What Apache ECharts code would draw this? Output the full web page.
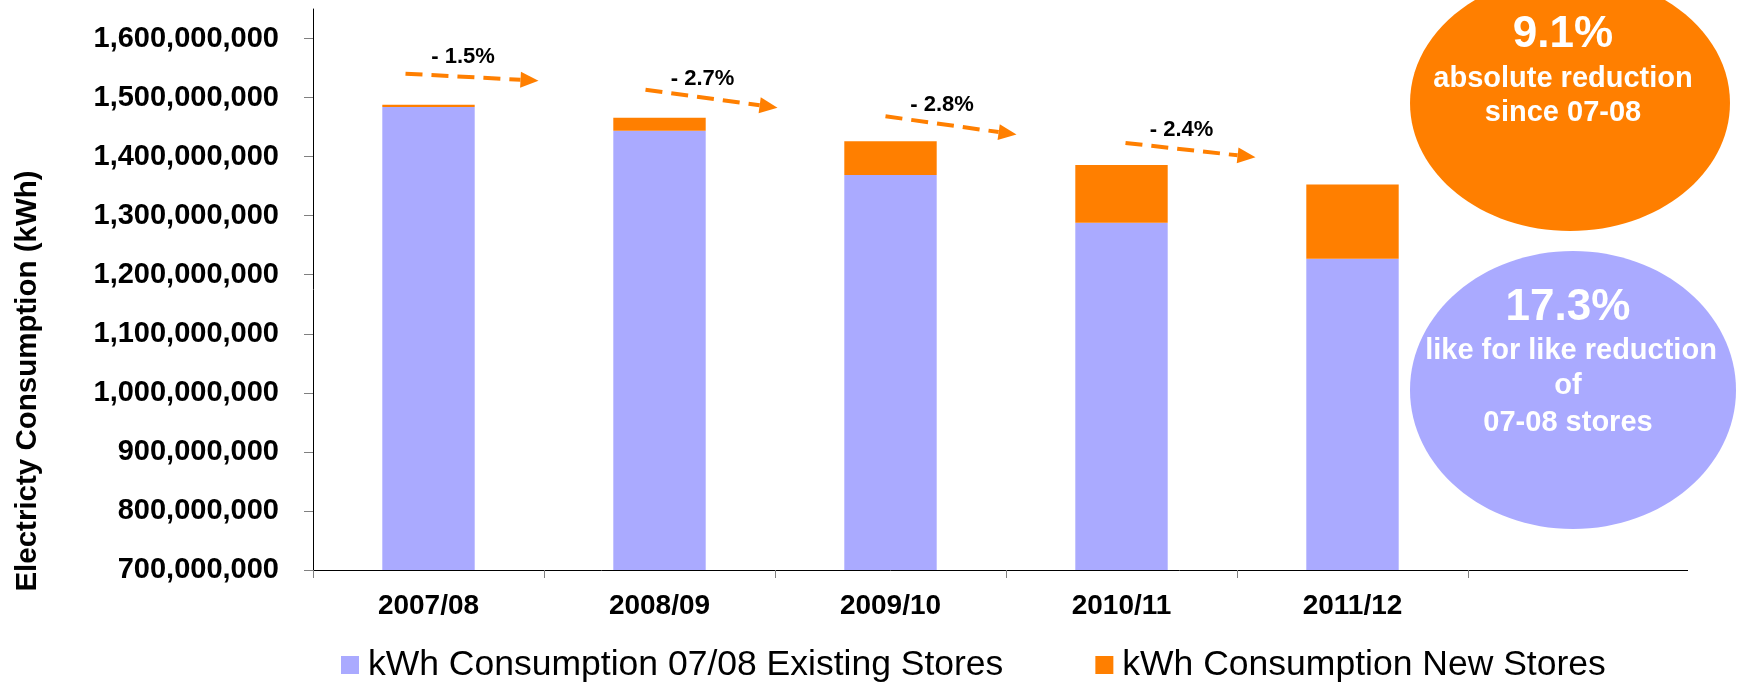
<!DOCTYPE html>
<html>
<head>
<meta charset="utf-8">
<title>Electricity Consumption</title>
<script src="https://cdn.jsdelivr.net/npm/echarts@6/dist/echarts.min.js"></script>
<style>
  html, body { margin: 0; padding: 0; background: #fff; }
  #chart { width: 1742px; height: 685px; }
</style>
</head>
<body>
<div id="chart"></div>
<script>
// Financial years
const years = ['2007/08', '2008/09', '2009/10', '2010/11', '2011/12'];
// kWh used by the stores that were open in 2007/08
const existingStores = [1484000000, 1444000000, 1369000000, 1288000000, 1227000000];
// kWh used by stores opened since then
const newStores = [4000000, 22000000, 57000000, 98000000, 126000000];
// Y axis ticks
const yTicks = [700000000, 800000000, 900000000, 1000000000, 1100000000,
                1200000000, 1300000000, 1400000000, 1500000000, 1600000000];

const FONT = '"Liberation Sans", Arial, Helvetica, sans-serif';
const BLUE = '#AAAAFF';
const ORANGE = '#FF7F00';
const W = 1742, H = 685;
const GRID = { left: 313, right: 274, top: 9, bottom: 115 };
const AXIS_Y = H - GRID.bottom + 0.5;

const totals = years.map((_, i) => existingStores[i] + newStores[i]);
const fmtPct = v => Math.abs(v * 100).toFixed(1) + '%';

// year-on-year change between consecutive totals
const changes = [];
for (let i = 0; i < years.length - 1; i++) {
  changes.push([i, totals[i], totals[i + 1], totals[i + 1] / totals[i] - 1]);
}
const absoluteReduction = 1 - totals[totals.length - 1] / totals[0];
const likeForLikeReduction = 1 - existingStores[existingStores.length - 1] / existingStores[0];

// dashed arrow from above one bar towards the next, with its % change on top
function renderArrow(params, api) {
  const i = api.value(0);
  const k = i - 1.5; // arrows drift a little to the right along the row
  const from = api.coord([i, api.value(1)]);
  const to = api.coord([i + 1, api.value(2)]);
  const start = [from[0] - 9.5 + 9 * k, from[1] - 26.5 + 3 * k];
  const tip = [to[0] - 109 + 8 * k, to[1] - 32 + 3.3 * k];
  const dx = tip[0] - start[0], dy = tip[1] - start[1];
  const len = Math.sqrt(dx * dx + dy * dy);
  const ux = dx / len, uy = dy / len;
  const headLen = 18, headHalf = 8;
  const base = [tip[0] - ux * headLen, tip[1] - uy * headLen];
  const mid = [(start[0] + tip[0]) / 2, (start[1] + tip[1]) / 2];
  return {
    type: 'group',
    children: [
      {
        type: 'line',
        shape: { x1: start[0], y1: start[1], x2: base[0], y2: base[1] },
        style: { stroke: ORANGE, lineWidth: 4, lineDash: [17, 9] }
      },
      {
        type: 'polygon',
        shape: { points: [tip,
          [base[0] - uy * headHalf, base[1] + ux * headHalf],
          [base[0] + uy * headHalf, base[1] - ux * headHalf]] },
        style: { fill: ORANGE }
      },
      {
        type: 'text',
        x: mid[0] - 9, y: mid[1] - 20,
        style: {
          text: '- ' + fmtPct(api.value(3)),
          fill: '#000', font: 'bold 22px ' + FONT,
          align: 'center', verticalAlign: 'middle'
        }
      }
    ]
  };
}

function bubbleText(x, y, text, size) {
  return {
    type: 'text', x: x, y: y, z: 20,
    style: { text: text, fill: '#fff', font: 'bold ' + size + 'px ' + FONT,
             align: 'center', verticalAlign: 'middle' }
  };
}

const chart = echarts.init(document.getElementById('chart'), null, { renderer: 'canvas' });

chart.setOption({
  animation: false,
  backgroundColor: '#fff',
  textStyle: { fontFamily: FONT },
  grid: { left: GRID.left, right: GRID.right, top: GRID.top, bottom: GRID.bottom, containLabel: false },
  legend: {
    data: ['kWh Consumption 07/08 Existing Stores', 'kWh Consumption New Stores'],
    left: 336, top: 642,
    icon: 'rect', itemWidth: 18, itemHeight: 18, itemGap: 92,
    textStyle: { fontSize: 35.5, color: '#000', fontFamily: FONT, padding: [0, 0, 0, 4] }
  },
  xAxis: {
    type: 'category',
    data: years,
    boundaryGap: true,
    axisLine: { lineStyle: { color: '#000', width: 1 } },
    axisTick: { show: true, length: 8, lineStyle: { color: '#7f7f7f' } },
    axisLabel: { color: '#000', fontSize: 28, fontWeight: 'bold', margin: 22, fontFamily: FONT },
    splitLine: { show: false }
  },
  yAxis: {
    type: 'value',
    min: 700000000, max: 1650000000, interval: 100000000,
    axisLine: { show: true, lineStyle: { color: '#000', width: 1 } },
    axisTick: { show: true, length: 9, lineStyle: { color: '#7f7f7f' }, customValues: yTicks },
    axisLabel: {
      color: '#000', fontSize: 29, fontWeight: 'bold', margin: 34, fontFamily: FONT,
      customValues: yTicks,
      formatter: v => Number(v).toLocaleString('en-US')
    },
    splitLine: { show: false }
  },
  series: [
    {
      name: 'kWh Consumption 07/08 Existing Stores',
      type: 'bar', stack: 'total', barWidth: '40%',
      itemStyle: { color: BLUE },
      data: existingStores
    },
    {
      name: 'kWh Consumption New Stores',
      type: 'bar', stack: 'total', barWidth: '40%',
      itemStyle: { color: ORANGE },
      data: newStores
    },
    {
      name: 'change',
      type: 'custom',
      coordinateSystem: 'cartesian2d',
      renderItem: renderArrow,
      encode: { x: 0, y: [1, 2] },
      clip: false, silent: true, z: 10,
      data: changes
    }
  ],
  graphic: [
    // axis title
    {
      type: 'text', x: 28, y: 381, rotation: Math.PI / 2,
      style: { text: 'Electricty Consumption (kWh)', fill: '#000',
               font: 'bold 29.5px ' + FONT, align: 'center', verticalAlign: 'middle' }
    },
    // x axis line running on past the last year
    {
      type: 'line',
      shape: { x1: W - GRID.right, y1: AXIS_Y, x2: 1688, y2: AXIS_Y },
      style: { stroke: '#000', lineWidth: 1 }
    },
    // absolute reduction bubble
    { type: 'ellipse', shape: { cx: 1570, cy: 103, rx: 160, ry: 128 }, style: { fill: ORANGE }, z: 5 },
    bubbleText(1563, 35, fmtPct(absoluteReduction), 44),
    bubbleText(1563, 79, 'absolute reduction', 29),
    bubbleText(1563, 113, 'since 07-08', 29),
    // like for like bubble
    { type: 'ellipse', shape: { cx: 1573, cy: 390, rx: 163, ry: 139 }, style: { fill: BLUE }, z: 5 },
    bubbleText(1568, 308, fmtPct(likeForLikeReduction), 44),
    bubbleText(1571, 351, 'like for like reduction', 29),
    bubbleText(1568, 386, 'of', 29),
    bubbleText(1568, 423, '07-08 stores', 29)
  ]
});
</script>
</body>
</html>
